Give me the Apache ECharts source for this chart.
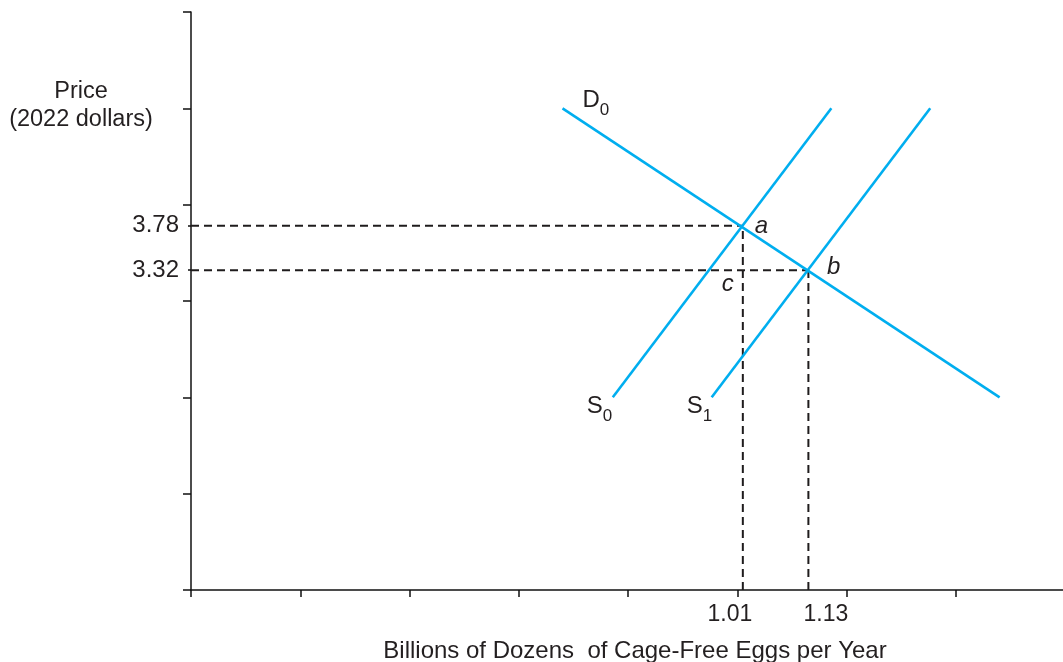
<!DOCTYPE html>
<html>
<head>
<meta charset="utf-8">
<script src="https://cdn.jsdelivr.net/npm/echarts@6/dist/echarts.min.js"></script>
<style>
html,body{margin:0;padding:0;background:#fff;}
#chart{width:1063px;height:662px;}
</style>
</head>
<body>
<div id="chart"></div>
<script>
// ---- data ----
const demandD0 = [[0.68, 5.0], [1.48, 2.0]];
const supplyS0 = [[0.772, 2.0], [1.172, 5.0]];
const supplyS1 = [[0.953, 2.0], [1.353, 5.0]];
const pointA = [1.01, 3.78];
const pointB = [1.13, 3.32];
const pointC = [1.01, 3.32];
const xTickValues = [0, 0.2, 0.4, 0.6, 0.8, 1.0, 1.2, 1.4];
const yTickValues = [0, 1, 2, 3, 4, 5, 6];
const xLabelValues = [1.01, 1.13];
const yLabelValues = [3.32, 3.78];
const curveNames = ['D', 'S', 'S'];
const curveSubs = ['0', '0', '1'];
const pointNames = ['a', 'b', 'c'];
const xTitle = 'Billions of Dozens  of Cage-Free Eggs per Year';
const yTitle = 'Price\n(2022 dollars)';

// ---- styles ----
const FONT = "'Liberation Sans', Arial, Helvetica, sans-serif";
const TXT = '#231f20';
const BLUE = '#00aeef';
const DASH = { color: '#1f1c1d', width: 2, type: [8, 5] };

const chart = echarts.init(document.getElementById('chart'), null, { renderer: 'canvas' });

function dashedH(p) { return { type: 'line', data: [[0, p[1]], p], symbol: 'none', lineStyle: DASH, z: 2, silent: true }; }
function dashedV(p) { return { type: 'line', data: [[p[0], 0], p], symbol: 'none', lineStyle: DASH, z: 2, silent: true }; }
function curve(d) { return { type: 'line', data: d, symbol: 'none', lineStyle: { color: BLUE, width: 2.6 }, z: 3, silent: true }; }

const curveStarts = [demandD0[0], supplyS0[0], supplyS1[0]];
const curveOffsets = [[20, -19.5], [-26, -2.5], [-25, -2.5]];
const pointList = [pointA, pointB, pointC];
const pointOffsets = [[12, 0], [18.5, -3], [-21, 14.5]];

const labelData = [];
curveStarts.forEach((p, i) => {
  labelData.push({
    value: p,
    label: {
      show: true, position: 'right', distance: 0, align: 'left', verticalAlign: 'top',
      offset: curveOffsets[i], color: TXT, opacity: 1, textBorderWidth: 0,
      formatter: '{m|' + curveNames[i] + '}{s|' + curveSubs[i] + '}',
      rich: {
        m: { fontFamily: FONT, fontSize: 24, lineHeight: 24, color: TXT, verticalAlign: 'top' },
        s: { fontFamily: FONT, fontSize: 17, lineHeight: 17, color: TXT, verticalAlign: 'top', padding: [13, 0, 0, 0] }
      }
    }
  });
});
pointList.forEach((p, i) => {
  labelData.push({
    value: p,
    label: {
      show: true, position: 'right', distance: 0, align: 'left', verticalAlign: 'middle',
      offset: pointOffsets[i], opacity: 1, textBorderWidth: 0,
      formatter: pointNames[i],
      fontFamily: FONT, fontSize: 24, fontStyle: 'italic', color: TXT
    }
  });
});

const option = {
  animation: false,
  backgroundColor: '#ffffff',
  grid: { left: 191, right: 0, top: 12, bottom: 72, containLabel: false },
  xAxis: {
    type: 'value', min: 0, max: 1.596,
    axisLine: { show: true, lineStyle: { color: '#111', width: 1.5 } },
    axisTick: { show: true, length: 7, inside: false, customValues: xTickValues, lineStyle: { color: '#111', width: 1.5 } },
    axisLabel: {
      show: true, customValues: xLabelValues, margin: 13,
      formatter: v => (Math.abs(v - xLabelValues[0]) < 1e-6 ? '{l|' : '{r|') + v.toFixed(2) + '}',
      rich: {
        l: { fontFamily: FONT, fontSize: 23, color: TXT, padding: [0, 26, 0, 0] },
        r: { fontFamily: FONT, fontSize: 23, color: TXT, padding: [0, 0, 0, 35] }
      }
    },
    splitLine: { show: false }
  },
  yAxis: [{
    type: 'value', min: 0, max: 6, interval: 1, position: 'left',
    axisLine: { show: true, lineStyle: { color: '#111', width: 1.5 } },
    axisTick: { show: true, length: 8, customValues: yTickValues, lineStyle: { color: '#111', width: 1.5 } },
    axisLabel: { show: false },
    splitLine: { show: false }
  }, {
    type: 'value', min: 0, max: 6, position: 'left', offset: 0,
    axisLine: { show: false },
    axisTick: { show: true, length: 3, customValues: yLabelValues, lineStyle: { color: '#111', width: 1.5 } },
    axisLabel: {
      show: true, customValues: yLabelValues, margin: 12,
      formatter: v => v.toFixed(2),
      fontFamily: FONT, fontSize: 24, color: TXT
    },
    splitLine: { show: false }
  }],
  graphic: [
    { type: 'text', x: 81, y: 78, style: { text: yTitle, font: '23.5px ' + FONT, fill: TXT, textAlign: 'center', textVerticalAlign: 'top', lineHeight: 28 } },
    { type: 'text', x: 635, y: 651, style: { text: xTitle, font: '24px ' + FONT, fill: TXT, textAlign: 'center', textVerticalAlign: 'middle' } }
  ],
  series: [
    dashedH(pointA), dashedH(pointB), dashedV(pointA), dashedV(pointB),
    curve(demandD0), curve(supplyS0), curve(supplyS1),
    { type: 'scatter', data: labelData, symbolSize: 0, z: 5, silent: true, itemStyle: { opacity: 1 } }
  ]
};
chart.setOption(option);
</script>
</body>
</html>
